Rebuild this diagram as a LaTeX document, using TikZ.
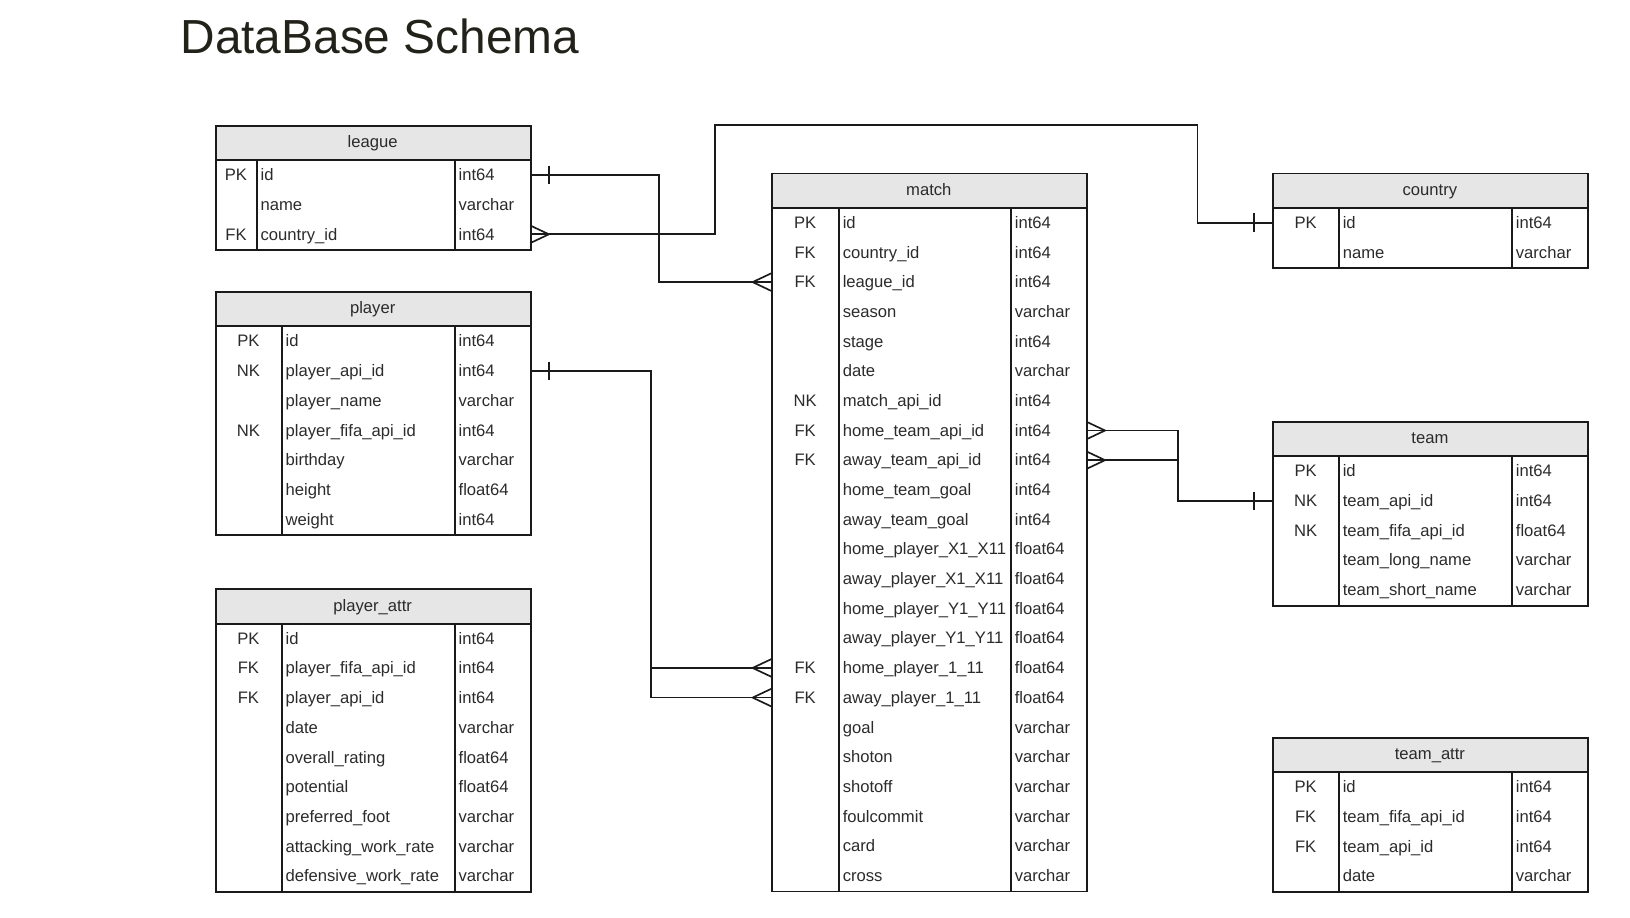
\documentclass[tikz,border=0pt]{standalone}
\usepackage{fontspec}
\setmainfont{Liberation Sans}
\usetikzlibrary{calc}
\definecolor{txt}{HTML}{2B2B2B}
\definecolor{hdrfill}{HTML}{E6E6E6}
\definecolor{titlec}{HTML}{22221A}
\definecolor{ln}{HTML}{1A1A1A}
\tikzset{
  cell/.style={inner sep=0pt, text=txt, font=\fontsize{16}{18}\selectfont},
  keytxt/.style={cell, anchor=base},
  fldtxt/.style={cell, anchor=base west},
  hdrtxt/.style={cell, anchor=base},
  border/.style={draw=ln, line width=1.8pt},
  conn/.style={draw=ln, line width=1.6pt},
}
\newcommand{\erdtable}[7]{%
  \pgfmathsetmacro{\erdh}{34+28.55*#6}%
  \pgfmathsetmacro{\erdbot}{#3+\erdh}%
  \fill[hdrfill] (#2,#3) rectangle (#2+303,#3+34);
  \node[border, inner sep=0pt, minimum width=303pt, minimum height=\erdh pt, anchor=north west] (#1) at (#2,#3) {};
  \draw[border] (#2,#3+34) -- (#2+303,#3+34);
  \draw[border] (#2+#4,#3+34) -- (#2+#4,\erdbot);
  \draw[border] (#2+230.5,#3+34) -- (#2+230.5,\erdbot);
  \node[hdrtxt] (#1-title) at (#2+151.5,#3+22) {#5};
  \foreach \k/\f/\t [count=\i] in {#7} {
    \pgfmathsetmacro{\erdyc}{#3+34+28.55*(\i-0.5)}
    \coordinate (#1-L\i) at (#2,\erdyc);
    \coordinate (#1-R\i) at (#2+303,\erdyc);
    \node[keytxt] (#1-k\i) at (#2+#4/2,\erdyc+5.5) {\k};
    \node[fldtxt] (#1-f\i) at (#2+#4+3.5,\erdyc+5.5) {\f};
    \node[fldtxt] (#1-t\i) at (#2+234,\erdyc+5.5) {\t};
  }
}
\newcommand{\crowL}[1]{\draw[conn] ([shift={(0,-8.5)}]#1) -- ([shift={(-18,0)}]#1) -- ([shift={(0,8.5)}]#1);}
\newcommand{\crowR}[1]{\draw[conn] ([shift={(0,-8.5)}]#1) -- ([shift={(18,0)}]#1) -- ([shift={(0,8.5)}]#1);}
\newcommand{\tickat}[2]{\draw[conn] ([shift={(#2,-9)}]#1) -- ([shift={(#2,9)}]#1);}
\begin{document}
\begin{tikzpicture}[x=1pt,y=-1pt]
\useasboundingbox (0,0) rectangle (1568,883);
\node[anchor=base west, inner sep=0pt, text=titlec, font=\fontsize{46}{54}\selectfont] (title) at (173.5,51.5) {DataBase Schema};

\erdtable{league}{207}{120}{40}{league}{3}{PK/id/int64, /name/varchar, FK/country\_id/int64}
\erdtable{player}{207}{280}{64}{player}{7}{PK/id/int64, NK/player\_api\_id/int64, /player\_name/varchar, NK/player\_fifa\_api\_id/int64, /birthday/varchar, /height/float64, /weight/int64}
\erdtable{pattr}{207}{566}{64}{player\_attr}{9}{PK/id/int64, FK/player\_fifa\_api\_id/int64, FK/player\_api\_id/int64, /date/varchar, /overall\_rating/float64, /potential/float64, /preferred\_foot/varchar, /attacking\_work\_rate/varchar, /defensive\_work\_rate/varchar}
\erdtable{match}{742}{166}{65}{match}{23}{PK/id/int64, FK/country\_id/int64, FK/league\_id/int64, /season/varchar, /stage/int64, /date/varchar, NK/match\_api\_id/int64, FK/home\_team\_api\_id/int64, FK/away\_team\_api\_id/int64, /home\_team\_goal/int64, /away\_team\_goal/int64, /home\_player\_X1\_X11/float64, /away\_player\_X1\_X11/float64, /home\_player\_Y1\_Y11/float64, /away\_player\_Y1\_Y11/float64, FK/home\_player\_1\_11/float64, FK/away\_player\_1\_11/float64, /goal/varchar, /shoton/varchar, /shotoff/varchar, /foulcommit/varchar, /card/varchar, /cross/varchar}
\erdtable{country}{1224}{166}{64}{country}{2}{PK/id/int64, /name/varchar}
\erdtable{team}{1224}{405}{64}{team}{5}{PK/id/int64, NK/team\_api\_id/int64, NK/team\_fifa\_api\_id/float64, /team\_long\_name/varchar, /team\_short\_name/varchar}
\erdtable{tattr}{1224}{709}{64}{team\_attr}{4}{PK/id/int64, FK/team\_fifa\_api\_id/int64, FK/team\_api\_id/int64, /date/varchar}

% league.id -> match.league_id
\draw[conn] (league-R1) -- ++(124,0) |- (match-L3);
\tickat{league-R1}{18}
\crowL{match-L3}

% league.country_id -> country.id
\coordinate (bendA) at (688,120);
\coordinate (bendB) at (1152,120);
\draw[conn] (league-R3) -| (bendA) -- (bendB) |- (country-L1);
\crowR{league-R3}
\tickat{country-L1}{-18}

% player.player_api_id -> match.home/away_player_1_11
\coordinate (pv) at ($(player-R2)+(116,0)$);
\draw[conn] (player-R2) -- (pv) |- (match-L17);
\draw[conn] (pv |- match-L16) -- (match-L16);
\tickat{player-R2}{18}
\crowL{match-L16}
\crowL{match-L17}

% match.home/away_team_api_id -> team.team_api_id
\coordinate (tv) at ($(match-R8)+(88,0)$);
\draw[conn] (match-R8) -- (tv) |- (team-L2);
\draw[conn] (match-R9) -- (tv |- match-R9);
\crowR{match-R8}
\crowR{match-R9}
\tickat{team-L2}{-18}
\end{tikzpicture}
\end{document}
